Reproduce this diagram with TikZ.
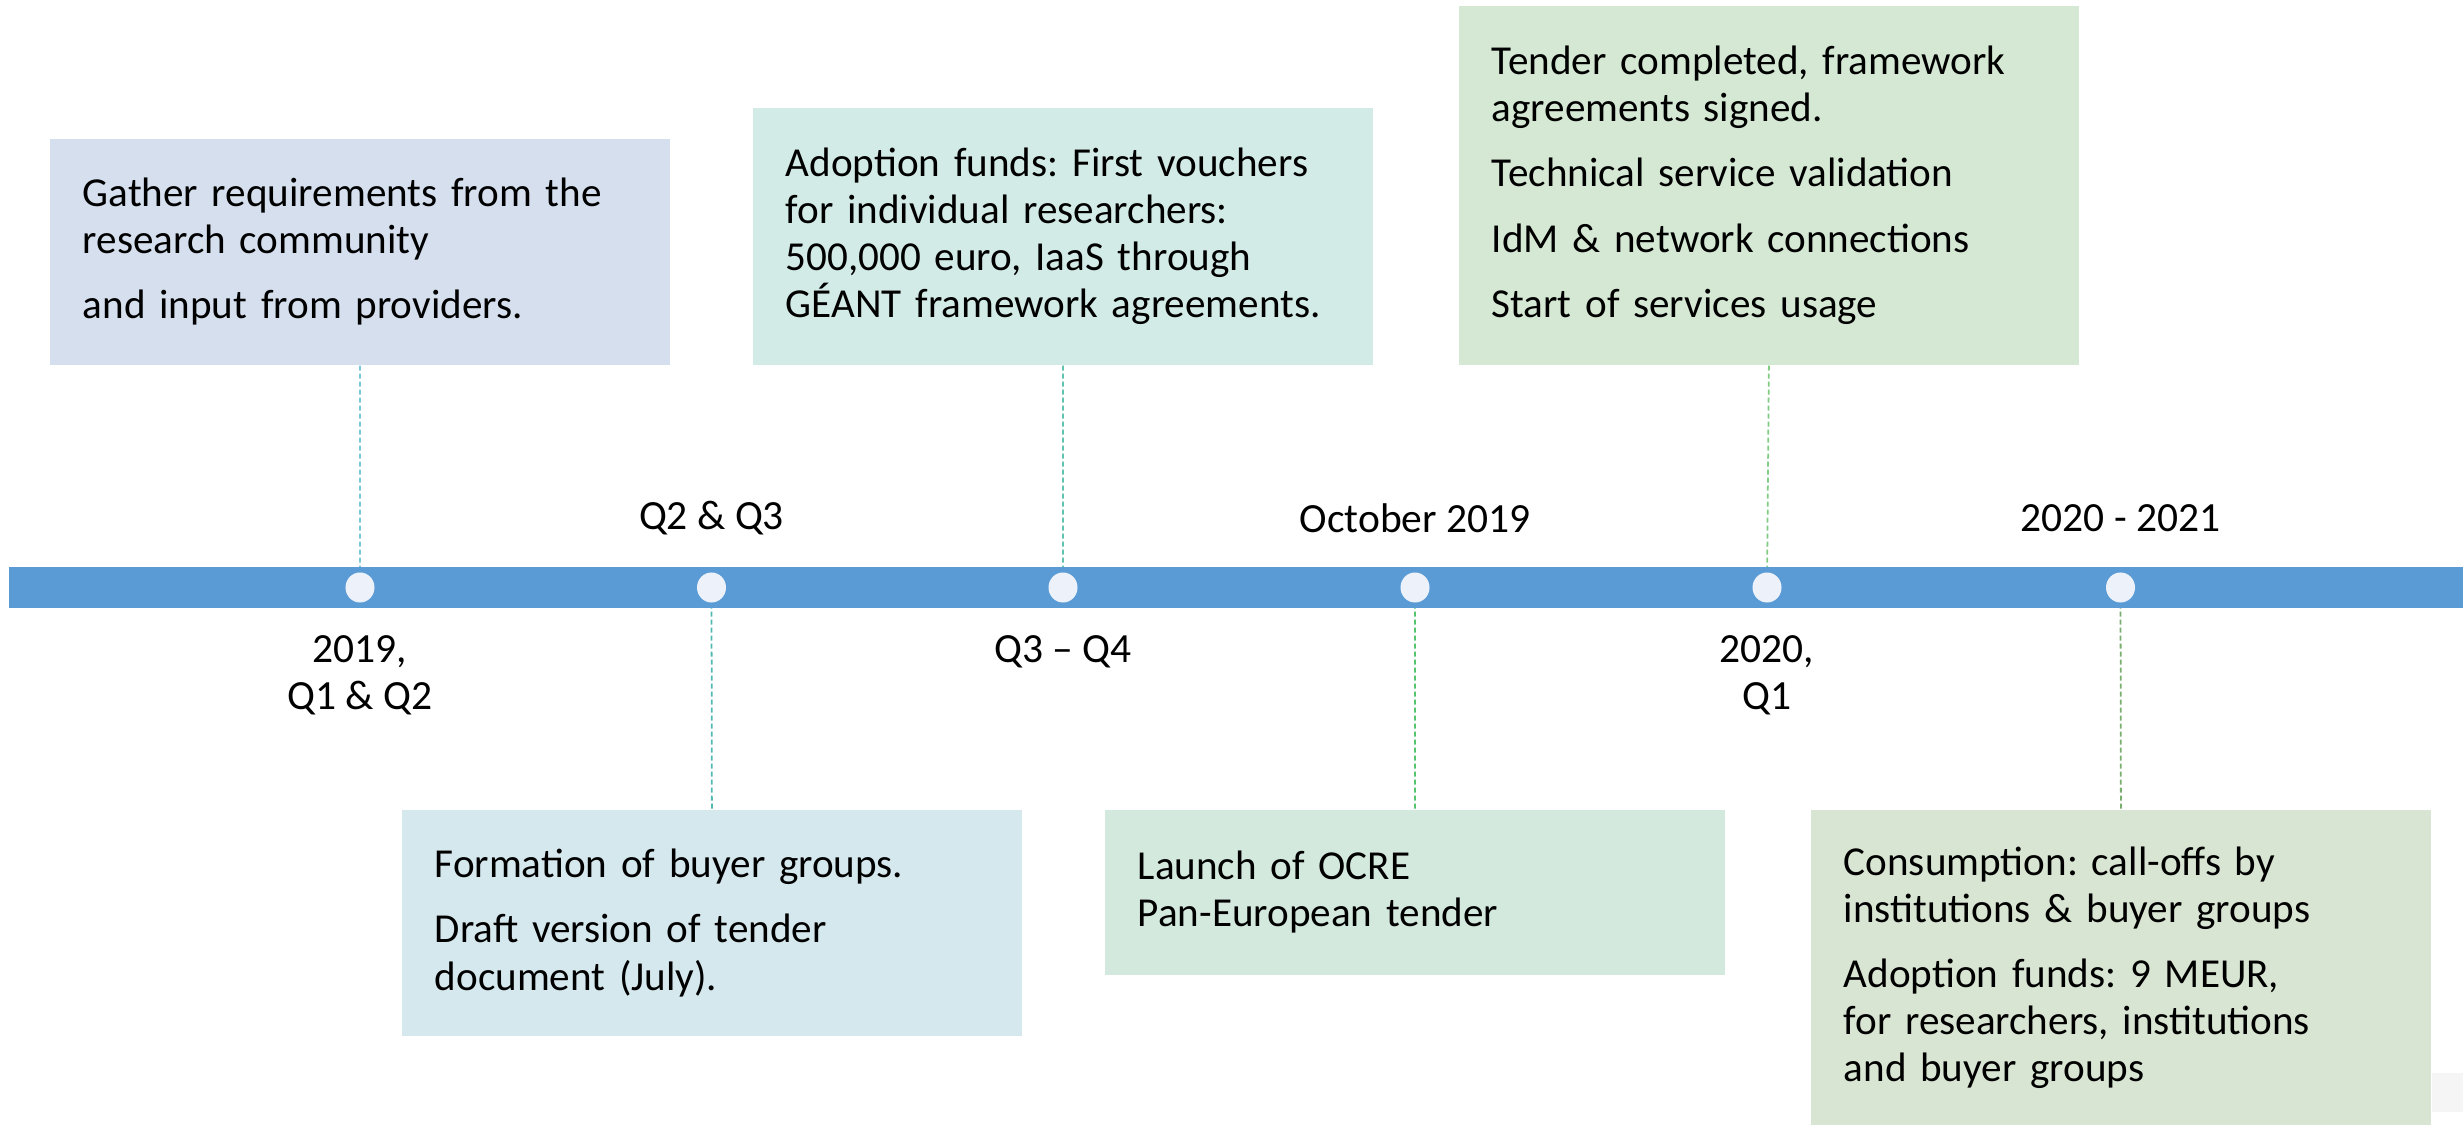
\documentclass[tikz,border=0pt]{standalone}
\usepackage{fontspec}
\setmainfont{Carlito}
\frenchspacing
\usetikzlibrary{shapes.geometric}
\definecolor{barblue}{HTML}{5B9BD5}
\definecolor{dotfill}{HTML}{EDF2FA}
\definecolor{fillA}{HTML}{D5DFEE}
\definecolor{fillB}{HTML}{D3EBE6}
\definecolor{fillC}{HTML}{D4E8D4}
\definecolor{fillD}{HTML}{D5E8EE}
\definecolor{fillE}{HTML}{D4E9DD}
\definecolor{fillF}{HTML}{D9E5D3}
\definecolor{leadA}{HTML}{7CC6DC}
\definecolor{leadB}{HTML}{62C2AE}
\definecolor{leadC}{HTML}{80CC82}
\definecolor{leadD}{HTML}{52B9B1}
\definecolor{leadE}{HTML}{56C46C}
\definecolor{leadF}{HTML}{7AAE6E}
\tikzset{
    box/.style={rectangle, anchor=north west, align=left, inner xsep=0.33cm,
    	inner ysep=0pt, minimum width=6.2cm, text width=5.54cm,
    	font=\fontsize{11.7}{13.4}\selectfont}
}
\tikzset{
    dot/.style={ellipse, fill=dotfill, draw=none, inner sep=0pt,
    	minimum width=0.29cm, minimum height=0.30cm}
}
\tikzset{
    lead/.style={dash pattern=on 0.05cm off 0.03cm, line width=0.5pt}
}
\tikzset{
    when/.style={align=center, inner sep=0pt, font=\fontsize{11.8}{13.4}\selectfont}
}
\pgfdeclarelayer{background}
\pgfsetlayers{background,main}

\begin{document}
\begin{tikzpicture}[x=0.01cm, y=-0.01cm]
  \useasboundingbox (0,0) rectangle (2463,1125);
  \fill[fill=black!4] (2432,1073) rectangle (2463,1112);

  \node (b1) [box, fill=fillA, minimum height=2.26cm] at (49,138)
  	{Gather requirements from the\\research community\\[5.2pt]and input from providers.};
  \node (b2) [box, fill=fillB, minimum height=2.57cm] at (752,107)
  	{Adoption funds: First vouchers\\for individual researchers:\\500,000 euro, IaaS through\\GÉANT framework agreements.};
  \node (b3) [box, fill=fillC, minimum height=3.59cm] at (1458,5)
  	{Tender completed, framework\\agreements signed.\\[5.2pt]Technical service validation\\[5.2pt]IdM \& network connections\\[5.2pt]Start of services usage};
  \node (b4) [box, fill=fillD, minimum height=2.26cm] at (401,809)
  	{Formation of buyer groups.\\[5.2pt]Draft version of tender\\document (July).};
  \node (b5) [box, fill=fillE, minimum height=1.65cm] at (1104,809)
  	{Launch of OCRE\\Pan-European tender};
  \node (b6) [box, fill=fillF, minimum height=3.16cm] at (1810,809)
  	{Consumption: call-offs by\\institutions \& buyer groups\\[5.2pt]Adoption funds: 9 MEUR,\\for researchers, institutions\\and buyer groups};

  \fill[barblue] (9,567) rectangle (2463,608);

  \node (t1) [dot] at (360,587.5) {};
  \node (t2) [dot] at (711.5,587.5) {};
  \node (t3) [dot] at (1063,587.5) {};
  \node (t4) [dot] at (1415,587.5) {};
  \node (t5) [dot] at (1767,587.5) {};
  \node (t6) [dot] at (2120.5,587.5) {};

  \node (w1) [when] at (360,675) {2019,\\Q1 \& Q2};
  \node (w2) [when] at (711.5,518) {Q2 \& Q3};
  \node (w3) [when] at (1063,652) {Q3 – Q4};
  \node (w4) [when] at (1415,518) {October 2019};
  \node (w5) [when] at (1767,675) {2020,\\Q1};
  \node (w6) [when] at (2120.5,518) {2020 - 2021};

  \begin{pgfonlayer}{background}
    \draw[lead, leadA] (b1.south) -- (t1.center);
    \draw[lead, leadB] (b2.south) -- (t3.center);
    \draw[lead, leadC] (b3.south) -- (t5.center);
    \draw[lead, leadD] (t2.center) -- (b4.north);
    \draw[lead, leadE] (t4.center) -- (b5.north);
    \draw[lead, leadF] (t6.center) -- (b6.north);
  \end{pgfonlayer}
\end{tikzpicture}
\end{document}
